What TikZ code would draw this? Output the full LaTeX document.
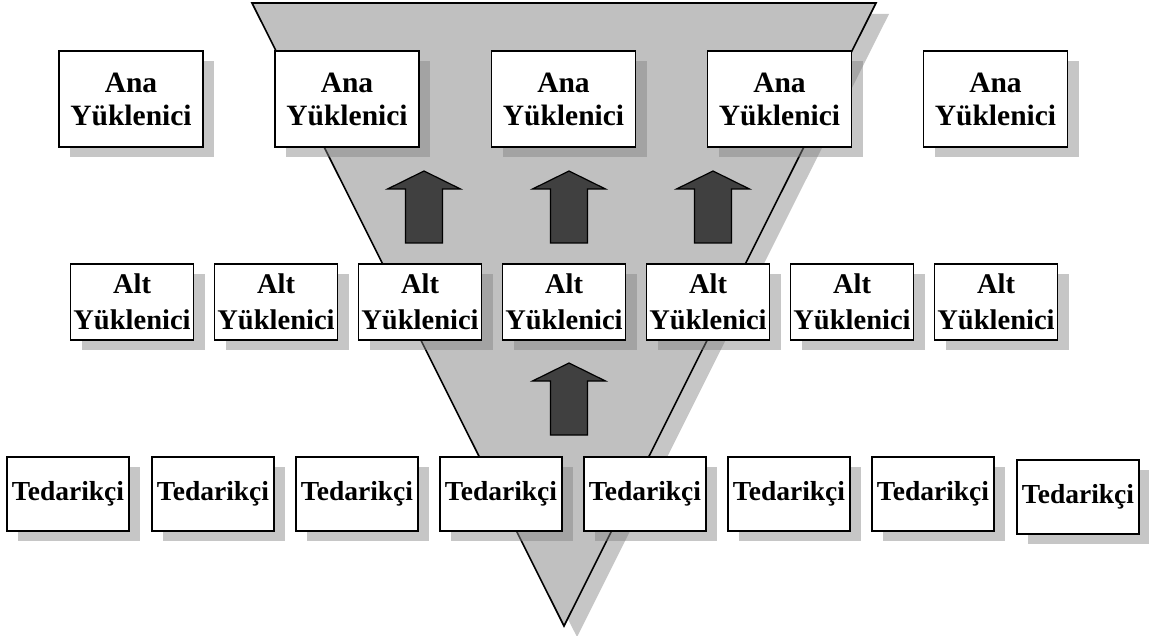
\documentclass[tikz,border=0pt]{standalone}
\usepackage{fontspec}
\setmainfont{Liberation Serif}
\usetikzlibrary{shadows}
\definecolor{funnel}{RGB}{192,192,192}
\definecolor{arrowfill}{RGB}{64,64,64}
\tikzset{
  box/.style={draw=black, line width=1.6pt, fill=white, inner sep=0pt, align=center,
    font=\bfseries, drop shadow={shadow xshift=11pt, shadow yshift=-10pt, fill=gray, opacity=0.45}},
  anabox/.style={box, minimum width=144pt, minimum height=96pt, font=\fontsize{29.5}{33}\bfseries\selectfont},
  altbox/.style={box, minimum width=123pt, minimum height=76pt, font=\fontsize{28.5}{36}\bfseries\selectfont},
  tedbox/.style={box, minimum width=122pt, minimum height=74pt, font=\fontsize{27.5}{30}\bfseries\selectfont},
  upblock/.pic={
    \draw[line width=1.2pt, fill=arrowfill, line join=miter]
      (-18.5,72) -- (-18.5,18) -- (-36.5,18) -- (0,0) -- (36.5,18) -- (18.5,18) -- (18.5,72) -- cycle;
  }
}
\begin{document}
\begin{tikzpicture}[x=1pt, y=-1pt]
\useasboundingbox (0,0) rectangle (1149,636);
% funnel with its shadow
\fill[gray, opacity=0.45] (265,14) -- (889,14) -- (577,637) -- cycle;
\draw[line width=1.6pt, fill=funnel, line join=miter] (252,3) -- (876,3) -- (564,626) -- cycle;

% main contractors
\node[anabox] (a1) at (131,99)   {Ana\\Yüklenici};
\node[anabox] (a2) at (347,99)   {Ana\\Yüklenici};
\node[anabox] (a3) at (563.5,99) {Ana\\Yüklenici};
\node[anabox] (a4) at (779.5,99) {Ana\\Yüklenici};
\node[anabox] (a5) at (995.5,99) {Ana\\Yüklenici};

% subcontractors
\foreach \i/\x in {1/132,2/276,3/420,4/564,5/708,6/852,7/996}
  \node[altbox] (s\i) at (\x,302) {Alt\\Yüklenici};

% suppliers
\foreach \i/\x in {1/68,2/213,3/357,4/501,5/645,6/789,7/933}
  \node[tedbox] (t\i) at (\x,494) {Tedarikçi};
\node[tedbox] (t8) at (1078,497) {Tedarikçi};

% flow arrows
\pic at (424,171) {upblock};
\pic at (569,171) {upblock};
\pic at (713,171) {upblock};
\pic at (569,363) {upblock};
\end{tikzpicture}
\end{document}
